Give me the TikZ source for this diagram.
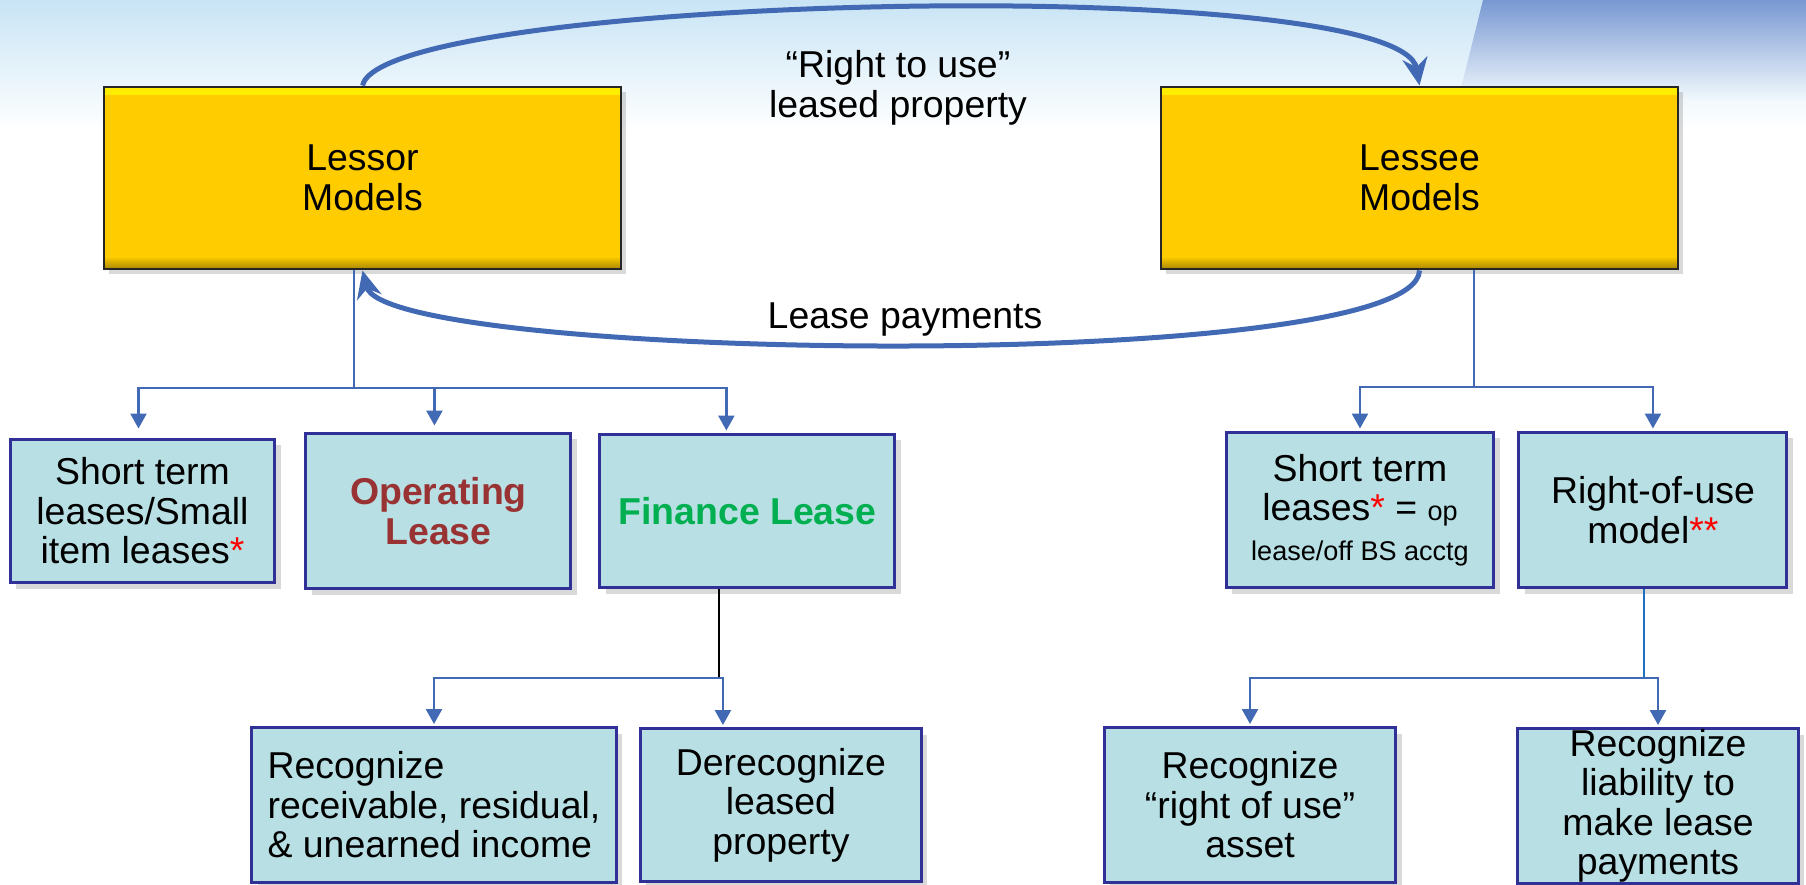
\documentclass[tikz,border=0pt]{standalone}
\usepackage{fontspec}
\setmainfont{Liberation Sans}
\usepackage{tikz}
\usetikzlibrary{positioning, arrows.meta, calc, shadows}

\definecolor{linkblue}{RGB}{66,106,180}
\definecolor{roublue}{RGB}{30,112,192}
\definecolor{boxedge}{RGB}{48,48,150}
\definecolor{boxfill}{RGB}{184,223,227}
\definecolor{gold}{RGB}{255,204,0}
\definecolor{opred}{RGB}{153,51,51}
\definecolor{fingreen}{RGB}{0,176,80}
\definecolor{skyblue}{RGB}{200,228,245}
\definecolor{cornerblue}{RGB}{120,152,210}

\newcommand{\boxfont}{\fontsize{21.3pt}{22.5pt}\selectfont}
\newcommand{\smalltxt}[1]{{\fontsize{15.4pt}{18pt}\selectfont #1}}
\newcommand{\redstar}{\textcolor{red}{*}}

\begin{document}
\begin{tikzpicture}[x=0.02cm, y=-0.02cm, font=\boxfont,
  modelbox/.style={draw=black!85, line width=0.04cm, fill=gold, minimum width=10.36cm, minimum height=3.66cm,
    align=center, inner sep=0pt,
    path picture={
      \fill[yellow!85!gold] (path picture bounding box.north west) rectangle ([yshift=-0.16cm]path picture bounding box.north east);
      \shade[top color=gold, bottom color=gold!65!black] ([yshift=0.26cm]path picture bounding box.south west) rectangle (path picture bounding box.south east);
    },
    drop shadow={shadow xshift=0.1cm, shadow yshift=-0.1cm, opacity=0.3}},
  leasebox/.style={draw=boxedge, line width=0.06cm, fill=boxfill, align=center, inner sep=0pt,
    drop shadow={shadow xshift=0.12cm, shadow yshift=-0.12cm, opacity=0.3}},
  branch/.style={draw=linkblue, line width=0.05cm},
  branchtip/.style={-{Triangle[length=0.3cm, width=0.32cm]}},
  bigarc/.style={draw=linkblue, line width=0.1cm, -{Stealth[length=0.55cm, width=0.5cm]}}]
  \useasboundingbox (0,0) rectangle (1806,885);
  \shade[top color=skyblue, bottom color=white] (0,0) rectangle (1806,130);
  \shade[top color=cornerblue, bottom color=skyblue!25!white] (1483,0) -- (1806,0) -- (1806,100) -- (1458,100) -- cycle;

  \node[modelbox] (lessor) at (362.5,178) {Lessor\\Models};
  \node[modelbox] (lessee) at (1419.5,178) {Lessee\\Models};

  \node[leasebox, minimum width=5.3cm, minimum height=2.88cm] (stl) at (142.5,511) {Short term\\leases/Small\\item leases\redstar};
  \node[leasebox, minimum width=5.3cm, minimum height=3.12cm, font=\boxfont\bfseries, text=opred] (oper) [right=0.56cm of stl] {Operating\\Lease};
  \node[leasebox, minimum width=5.9cm, minimum height=3.08cm, font=\boxfont\bfseries, text=fingreen] (fin) [right=0.52cm of oper] {Finance Lease};

  \node[leasebox, minimum width=5.36cm, minimum height=3.12cm] (stee) at (1360,510) {Short term\\leases\redstar{} = \smalltxt{op}\\\smalltxt{lease/off BS acctg}};
  \node[leasebox, minimum width=5.36cm, minimum height=3.12cm] (rou) [right=0.44cm of stee] {Right-of-use\\model\textcolor{red}{**}};

  \node[leasebox, minimum width=7.3cm, minimum height=3.1cm, align=left] (rec) at (434,805) {Recognize\\receivable, residual,\\\& unearned income};
  \node[leasebox, minimum width=5.62cm, minimum height=3.06cm] (derec) [right=0.42cm of rec] {Derecognize\\leased\\property};
  \node[leasebox, minimum width=5.84cm, minimum height=3.1cm] (rrou) at (1250,805) {Recognize\\“right of use”\\asset};
  \node[leasebox, minimum width=5.62cm, minimum height=3.1cm] (liab) at (1658,806) {Recognize\\liability to\\make lease\\payments};

  \node[align=center] (rightlbl) at (898,88) {“Right to use”\\leased property};
  \node (paylbl) at (905,320) {Lease payments};

  \draw[bigarc] (lessor.north) .. controls +(20,-91) and +(-19,-114) .. (lessee.north);
  \draw[bigarc] (lessee.south) .. controls +(-4,105) and +(23,91) .. (lessor.south);

  \coordinate (lsplit) at (354,388);
  \draw[branch] (lessor.south -| lsplit) -- (lsplit);
  \draw[branch, branchtip] (lsplit) -| ($(stl.north)+(-4,-9)$);
  \draw[branch, branchtip] (lsplit) -| ($(oper.north)+(-4,-6)$);
  \draw[branch, branchtip] (lsplit) -| ($(fin.north)+(-21,-2)$);

  \coordinate (rsplit) at (1474,387);
  \draw[branch] (lessee.south -| rsplit) -- (rsplit);
  \draw[branch, branchtip] (rsplit) -| ($(stee.north)+(0,-2)$);
  \draw[branch, branchtip] (rsplit) -| ($(rou.north)+(0,-2)$);

  \coordinate (fsplit) at (719,678);
  \draw[black, line width=0.05cm] (fin.south -| fsplit) -- (fsplit);
  \draw[branch, branchtip] (fsplit) -| ($(rec.north)+(0,-2)$);
  \draw[branch, branchtip] (fsplit) -| ($(derec.north)+(-58,-2)$);

  \coordinate (usplit) at (1644,678);
  \draw[branch, draw=roublue] (rou.south -| usplit) -- (usplit);
  \draw[branch, branchtip] (usplit) -| ($(rrou.north)+(0,-2)$);
  \draw[branch, branchtip] (usplit) -| ($(liab.north)+(0,-2)$);
\end{tikzpicture}
\end{document}
